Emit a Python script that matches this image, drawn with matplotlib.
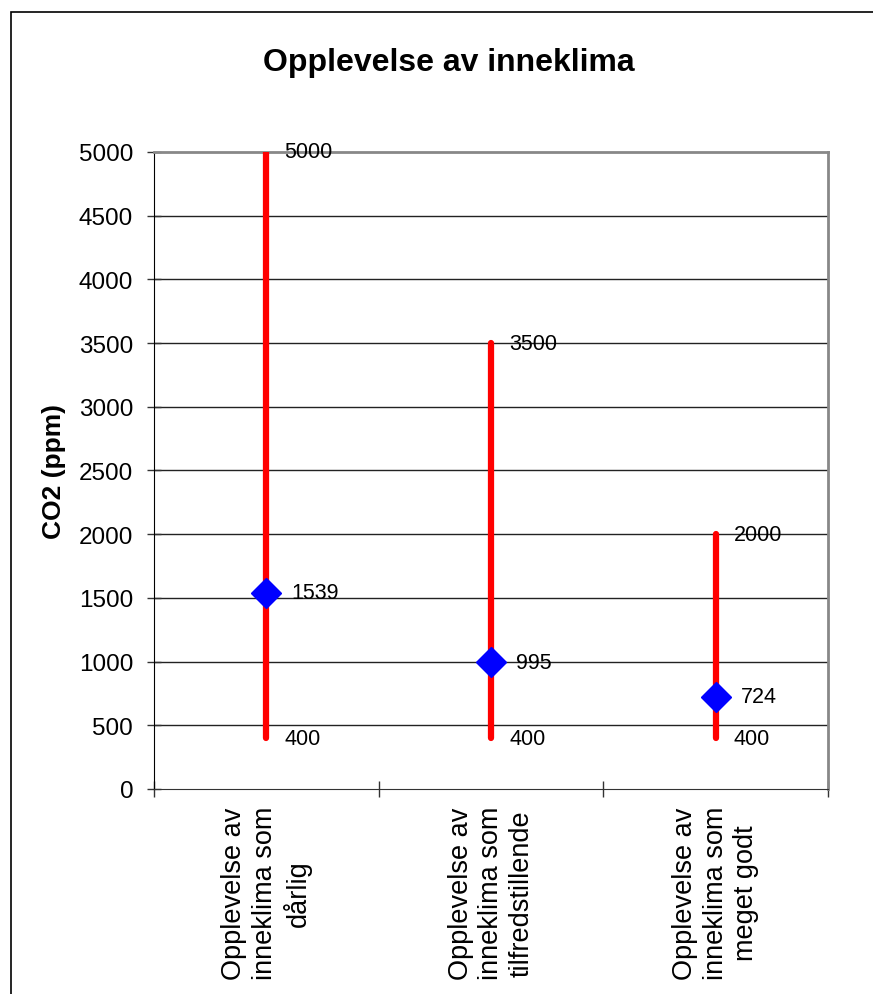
import matplotlib
matplotlib.use("Agg")
import matplotlib.pyplot as plt
from matplotlib.patches import Rectangle

plt.rcParams['font.family'] = ['Liberation Sans', 'DejaVu Sans']

categories = [
    "Opplevelse av\ninneklima som\ndårlig",
    "Opplevelse av\ninneklima som\ntilfredstillende",
    "Opplevelse av\ninneklima som\nmeget godt",
]
low_values = [400, 400, 400]
high_values = [5000, 3500, 2000]
mean_values = [1539, 995, 724]
y_ticks = [0, 500, 1000, 1500, 2000, 2500, 3000, 3500, 4000, 4500, 5000]

W, H = 873, 995
fig = plt.figure(figsize=(W / 100, H / 100), dpi=100)
ax = fig.add_axes([154 / W, 1 - 790 / H, (828 - 154) / W, (790 - 153) / H])

# chart frame (only the left and top edges fall inside the image)
fig.patches.append(Rectangle((10.5 / W, -0.1), 2, 1 - 12.5 / H + 0.1,
                             transform=fig.transFigure, fill=False,
                             edgecolor='black', linewidth=1.2))

xs = [i + 0.5 for i in range(len(categories))]

ax.set_xlim(0, 3)
ax.set_ylim(0, 5000)

for y in y_ticks[1:-1]:
    ax.axhline(y, color='#222222', linewidth=1.0, zorder=1)

for x, lo, hi, m in zip(xs, low_values, high_values, mean_values):
    ax.plot([x, x], [lo, hi], color='#ff0000', linewidth=4.5,
            solid_capstyle='round', zorder=3)
    ax.plot([x], [m], marker='D', markersize=15, color='#0000ff',
            markeredgecolor='#0000ff', zorder=4)
    ax.annotate(str(hi), (x, hi), xytext=(13, 0), textcoords='offset points',
                ha='left', va='center', fontsize=15.5)
    ax.annotate(str(lo), (x, lo), xytext=(13, 0), textcoords='offset points',
                ha='left', va='center', fontsize=15.5)
    ax.annotate(str(m), (x, m), xytext=(18, 0), textcoords='offset points',
                ha='left', va='center', fontsize=15.5)

ax.set_yticks(y_ticks)
ax.set_yticklabels([str(v) for v in y_ticks], fontsize=17.5)
ax.set_xticks([0, 1, 2, 3])
ax.set_xticklabels([])
ax.set_xticks(xs, minor=True)
ax.set_xticklabels(categories, minor=True, rotation=90, fontsize=19.5,
                   ha='center', va='top', multialignment='center',
                   linespacing=1.22)
ax.tick_params(axis='x', which='minor', length=0, pad=12)
ax.tick_params(axis='x', which='major', direction='inout', length=12, width=1,
               color='#333333')
ax.tick_params(axis='y', direction='inout', length=10, width=1, pad=10,
               color='#333333')

ax.spines['left'].set_color('black')
ax.spines['bottom'].set_color('#333333')
ax.spines['top'].set_color('#888888')
ax.spines['top'].set_linewidth(2)
ax.spines['right'].set_color('#888888')
ax.spines['right'].set_linewidth(2)

ax.set_ylabel("CO2 (ppm)", fontsize=19, fontweight='bold', labelpad=9)
fig.text(449 / W, 1 - 63 / H, "Opplevelse av inneklima", ha='center',
         va='center', fontsize=23, fontweight='bold')

fig.savefig("out.png", dpi=100, facecolor='white')
